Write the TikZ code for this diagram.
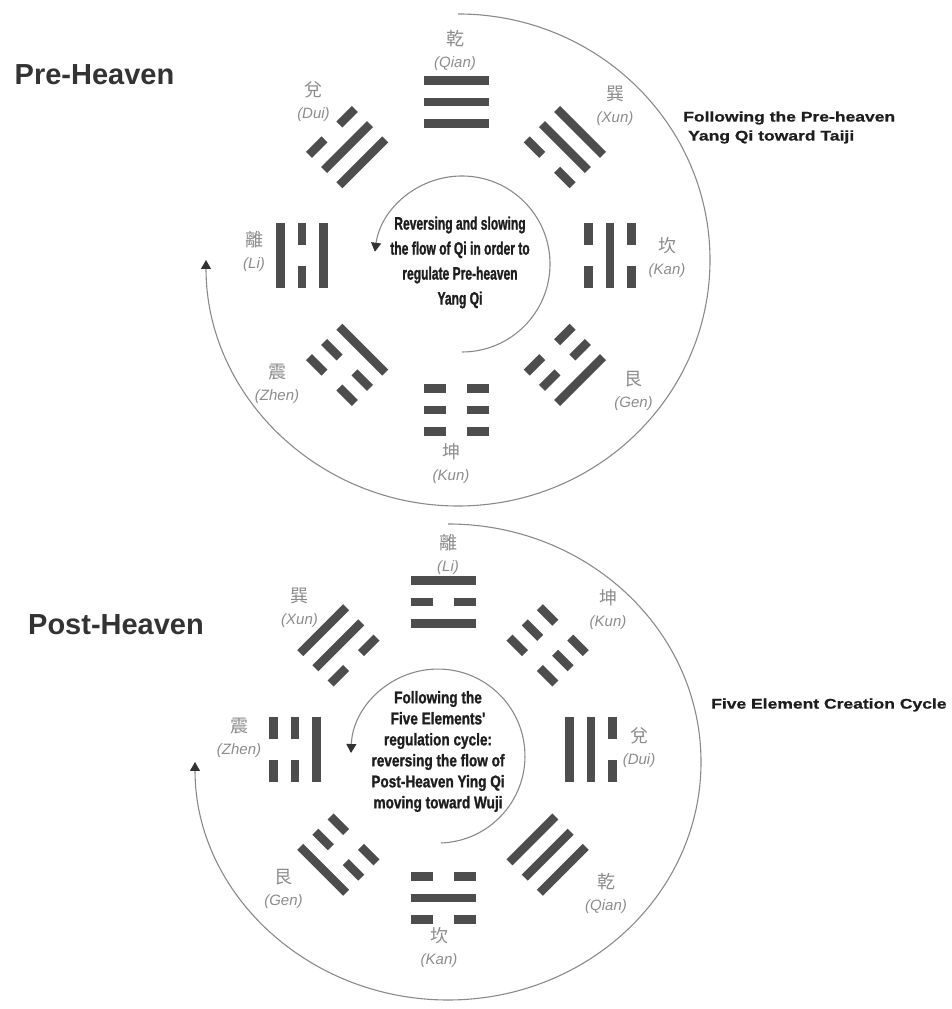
\documentclass[tikz,border=0pt]{standalone}
\usepackage{fontspec}
\setmainfont{Liberation Sans}
\newfontfamily\cjk{Noto Sans CJK TC}
\newfontfamily\narrowsans[FakeStretch=0.67, FakeBold=1.2]{Liberation Sans}
\newfontfamily\narrowsansb[FakeStretch=0.8, FakeBold=1.2]{Liberation Sans}
\newfontfamily\widesans[FakeStretch=1.25, FakeBold=0.8]{Liberation Sans}
\usetikzlibrary{arrows.meta}
\definecolor{bgLine}{HTML}{8A8A8A}
\definecolor{bgYao}{HTML}{4D4D4D}
\definecolor{bgLabel}{HTML}{8C8C8C}
\definecolor{bgText}{HTML}{1E1E1E}
\definecolor{bgTitle}{HTML}{333333}
\newcommand{\yaogap}{21.5}
\tikzset{
  bg/.style={x=1pt, y=1pt, >={Triangle[length=9pt, width=10pt, color=bgTitle]}},
  yao/.style={draw=bgYao, line width=8.5pt},
  lab/.style={align=center, inner sep=0pt, text=bgLabel, font=\fontsize{15}{22}\selectfont},
  cyc/.style={->, draw=bgLine, line width=1.1pt},
  core/.style={align=center, inner sep=0pt, text=bgText},
  title/.style={inner sep=0pt, text=bgTitle, font=\bfseries\fontsize{29}{34}\selectfont},
  note/.style={anchor=west, inner sep=0pt, text=bgText, align=left, font=\widesans\bfseries\fontsize{14}{19}\selectfont},
}
% center, angle, radius, lines from inside out (1 = solid, 0 = broken)
\newcommand{\trigram}[6]{%
  \begin{scope}[shift={(#1)}, rotate=#2-90]
    \foreach \yl [count=\k] in {#4,#5,#6} {
      \pgfmathsetmacro{\yy}{#3+(\k-2)*\yaogap}
      \ifnum\yl=1
        \draw[yao] (-32.5,\yy) -- (32.5,\yy);
      \else
        \draw[yao] (-32.5,\yy) -- (-10.5,\yy) (10.5,\yy) -- (32.5,\yy);
      \fi
    }
  \end{scope}}

\begin{document}
\begin{tikzpicture}[bg]
\useasboundingbox (0,0) rectangle (952,1009);

\coordinate (pre-o) at (456,753);
\coordinate (pre-ring) at (458,749);
\coordinate (pre-core) at (462,745);
\node[title] (pre-title) at (94.5,934) {Pre-Heaven};

\foreach \ang/\ya/\yb/\yc in {90/1/1/1, 135/1/1/0, 180/1/0/1, 225/1/0/0,
                              270/0/0/0, 315/0/0/1, 0/0/1/0, 45/0/1/1}
  \trigram{pre-o}{\ang}{154}{\ya}{\yb}{\yc};

\foreach \n/\lx/\ly/\zi/\py in {qian/-1/205/乾/Qian, dui/-142.5/154.5/兌/Dui, li/-202/5/離/Li,
                                zhen/-179/-127.5/震/Zhen, kun/-5/-207.5/坤/Kun, gen/177.5/-135/艮/Gen,
                                kan/211/-2/坎/Kan, xun/159/150/巽/Xun}
  \node[lab] (pre-\n) at ([shift={(\lx,\ly)}]pre-o) {{\cjk\fontsize{18}{22}\selectfont\zi}\\{\itshape(\py)}};

\draw[cyc] (pre-ring) ++(0,246) arc[start angle=90, end angle=-180, x radius=252, y radius=246];
\draw[cyc] (pre-core) ++(0,-88) arc[start angle=-90, end angle=172, radius=88];
\node[core, font=\narrowsans\bfseries\fontsize{18}{25}\selectfont] (pre-txt) at (460,746.5)
  {Reversing and slowing\\the flow of Qi in order to\\regulate Pre-heaven\\Yang Qi};
\node[note] (pre-note) at (683,881.5) {Following the Pre-heaven\\\hspace*{5pt}Yang Qi toward Taiji};

\coordinate (post-o) at (443,259);
\coordinate (post-ring) at (448,247);
\coordinate (post-core) at (441,253);
\node[title] (post-title) at (116,384) {Post-Heaven};

\foreach \ang/\ya/\yb/\yc in {90/1/0/1, 45/0/0/0, 0/1/1/0, 315/1/1/1,
                              270/0/1/0, 225/0/0/1, 180/1/0/0, 135/0/1/1}
  \trigram{post-o}{\ang}{148}{\ya}{\yb}{\yc};

\foreach \n/\lx/\ly/\zi/\py in {li/5/196/離/Li, kun/165/140/坤/Kun, dui/196/2.5/兌/Dui,
                                qian/163/-143/乾/Qian, kan/-4/-198/坎/Kan, gen/-159.5/-138.5/艮/Gen,
                                zhen/-204/12/震/Zhen, xun/-143.5/142.5/巽/Xun}
  \node[lab] (post-\n) at ([shift={(\lx,\ly)}]post-o) {{\cjk\fontsize{18}{22}\selectfont\zi}\\{\itshape(\py)}};

\draw[cyc] (post-ring) ++(0,238) arc[start angle=90, end angle=-180, x radius=253, y radius=238];
\draw[cyc] (post-core) ++(0,-87) arc[start angle=-88, end angle=178, radius=87];
\node[core, font=\narrowsansb\bfseries\fontsize{17}{21}\selectfont] (post-txt) at (438,257.5)
  {Following the\\Five Elements'\\regulation cycle:\\reversing the flow of\\Post-Heaven Ying Qi\\moving toward Wuji};
\node[note] (post-note) at (711,304) {Five Element Creation Cycle};
\end{tikzpicture}
\end{document}
